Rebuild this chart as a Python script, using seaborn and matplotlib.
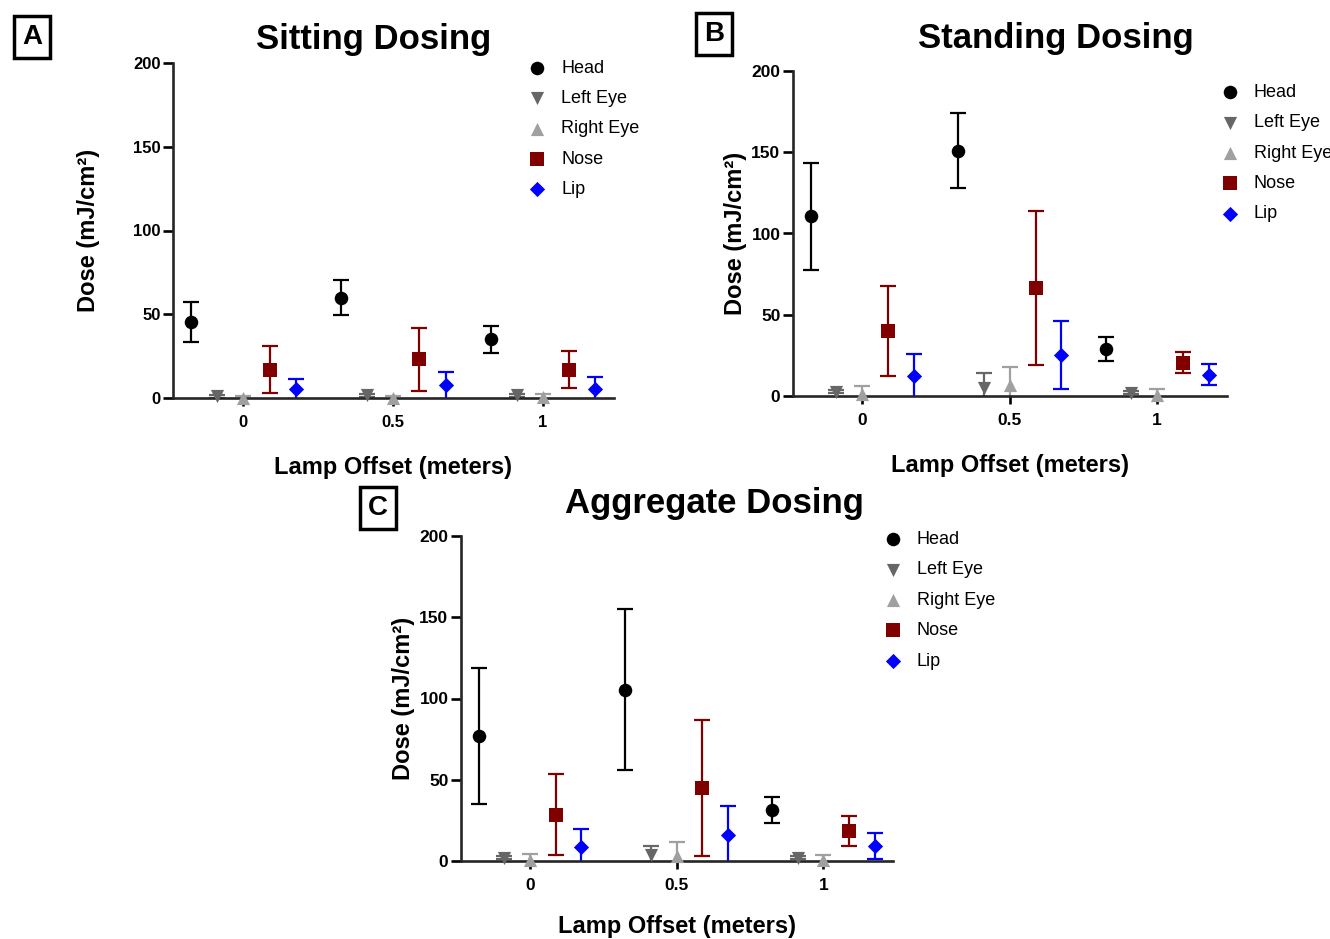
import numpy as np
import pandas as pd
import seaborn as sns
import matplotlib.pyplot as plt

# 1. Data (mean and SD, mJ/cm^2)
offsets = [0, 0.5, 1]
parts = ['Head', 'Left Eye', 'Right Eye', 'Nose', 'Lip']

sit_head = [45.5, 60, 35]
sit_head_sd = [12, 10.7, 8]
sit_leye = [1, 1.5, 1.5]
sit_leye_sd = [1, 1, 1]
sit_reye = [0, 0, 0.5]
sit_reye_sd = [1, 1, 2]
sit_nose = [17, 23, 17]
sit_nose_sd = [14, 19, 11]
sit_lip = [5.5, 7.5, 5.5]
sit_lip_sd = [6, 8, 7]

stand_head = [110.5, 151, 29]
stand_head_sd = [33, 23, 7.6]
stand_leye = [2.7, 5, 2]
stand_leye_sd = [1, 9, 1]
stand_reye = [1, 7, 0.5]
stand_reye_sd = [5, 11, 4]
stand_nose = [40, 66.5, 20.5]
stand_nose_sd = [27.5, 47.5, 6.6]
stand_lip = [12.5, 25, 13]
stand_lip_sd = [13.5, 21, 6.5]

agg_head = [77, 105.5, 31.5]
agg_head_sd = [41.7, 49.5, 8]
agg_leye = [2, 3.5, 2]
agg_leye_sd = [1, 6, 1]
agg_reye = [0.5, 3, 0.5]
agg_reye_sd = [4, 9, 3]
agg_nose = [28.5, 45, 18.5]
agg_nose_sd = [24.8, 42, 9]
agg_lip = [8.5, 16, 9]
agg_lip_sd = [11, 18, 8]

colors = {'Head': 'black', 'Left Eye': '#666666', 'Right Eye': '#a0a0a0',
          'Nose': '#800000', 'Lip': '#0000ff'}
markers = {'Head': 'o', 'Left Eye': 'v', 'Right Eye': '^', 'Nose': 's', 'Lip': 'D'}
sizes = {'Head': 95, 'Left Eye': 90, 'Right Eye': 90, 'Nose': 95, 'Lip': 60}
dodge = dict(zip(parts, [-0.175, -0.0875, 0, 0.0875, 0.175]))


def make_df(means, sds):
    rows = []
    for part, m, s in zip(parts, means, sds):
        for off, mv, sv in zip(offsets, m, s):
            rows.append({'part': part, 'offset': off, 'dose': mv, 'sd': sv})
    return pd.DataFrame(rows)


sitting = make_df([sit_head, sit_leye, sit_reye, sit_nose, sit_lip],
                  [sit_head_sd, sit_leye_sd, sit_reye_sd, sit_nose_sd, sit_lip_sd])
standing = make_df([stand_head, stand_leye, stand_reye, stand_nose, stand_lip],
                   [stand_head_sd, stand_leye_sd, stand_reye_sd, stand_nose_sd, stand_lip_sd])
aggregate = make_df([agg_head, agg_leye, agg_reye, agg_nose, agg_lip],
                    [agg_head_sd, agg_leye_sd, agg_reye_sd, agg_nose_sd, agg_lip_sd])

# 2. Style
sns.set_style('ticks')
plt.rcParams['font.family'] = ['Liberation Sans', 'DejaVu Sans']
plt.rcParams['axes.linewidth'] = 1.9
plt.rcParams['text.color'] = 'black'
plt.rcParams['axes.labelcolor'] = 'black'
plt.rcParams['xtick.color'] = 'black'
plt.rcParams['ytick.color'] = 'black'

fig = plt.figure(figsize=(13.3, 9.39), dpi=100)


def draw_panel(ax, df, title, title_x, title_y, leg_x, leg_y, tick_size=12.5, ylabpad=3, xlabpad=19):
    for part in parts:
        sub = df[df['part'] == part]
        xs = sub['offset'] + dodge[part]
        ax.errorbar(xs, sub['dose'], yerr=sub['sd'], fmt='none', ecolor=colors[part],
                    elinewidth=1.6, capsize=5.5, capthick=1.6, zorder=2)
        sns.scatterplot(x=xs, y=sub['dose'], marker=markers[part], color=colors[part],
                        s=sizes[part], linewidth=0, label=part, ax=ax, zorder=3, clip_on=False)
    ax.set_xlim(-0.235, 1.237)
    ax.set_ylim(0, 200)
    ax.set_xticks(offsets)
    ax.set_xticklabels(['0', '0.5', '1'])
    ax.set_yticks([0, 50, 100, 150, 200])
    sns.despine(ax=ax)
    ax.tick_params(axis='y', length=7, width=1.9, labelsize=tick_size, pad=2)
    ax.tick_params(axis='x', length=6, width=1.9, labelsize=tick_size, pad=6)
    for lbl in ax.get_xticklabels() + ax.get_yticklabels():
        lbl.set_fontweight('bold')
    ax.set_xlabel('Lamp Offset (meters)', fontsize=17, fontweight='bold', labelpad=xlabpad)
    ax.set_ylabel('Dose (mJ/cm²)', fontsize=17, fontweight='bold', labelpad=ylabpad)
    ax.text(title_x, title_y, title, transform=ax.transAxes, ha='center', va='center',
            fontsize=25, fontweight='bold')
    ax.legend(loc='upper left', bbox_to_anchor=(leg_x, leg_y), frameon=False, fontsize=13,
              borderaxespad=0, borderpad=0, handlelength=1.0, handletextpad=0.85,
              labelspacing=0.74)


# 3. Three panels
ax_a = fig.add_axes([173 / 1330, 1 - 398 / 939, 441 / 1330, 335 / 939])
draw_panel(ax_a, sitting, 'Sitting Dosing', 0.454, 1.069, 0.805, 1.01,
           tick_size=12, ylabpad=24)

ax_b = fig.add_axes([793 / 1330, 1 - 396 / 939, 434 / 1330, 325 / 939])
draw_panel(ax_b, standing, 'Standing Dosing', 0.606, 1.10, 0.985, 0.96)

ax_c = fig.add_axes([461 / 1330, 1 - 861 / 939, 432 / 1330, 325 / 939])
draw_panel(ax_c, aggregate, 'Aggregate Dosing', 0.586, 1.10, 0.978, 1.015, xlabpad=16)

# 4. Panel letters in boxes
for letter, px, py in [('A', 32, 37), ('B', 714, 34), ('C', 378, 508)]:
    fig.text(px / 1330, 1 - py / 939, letter, ha='center', va='center', fontsize=20,
             fontweight='bold',
             bbox=dict(boxstyle='square,pad=0.3', facecolor='white', edgecolor='black', linewidth=2.5))

fig.savefig('out.png', dpi=100)
